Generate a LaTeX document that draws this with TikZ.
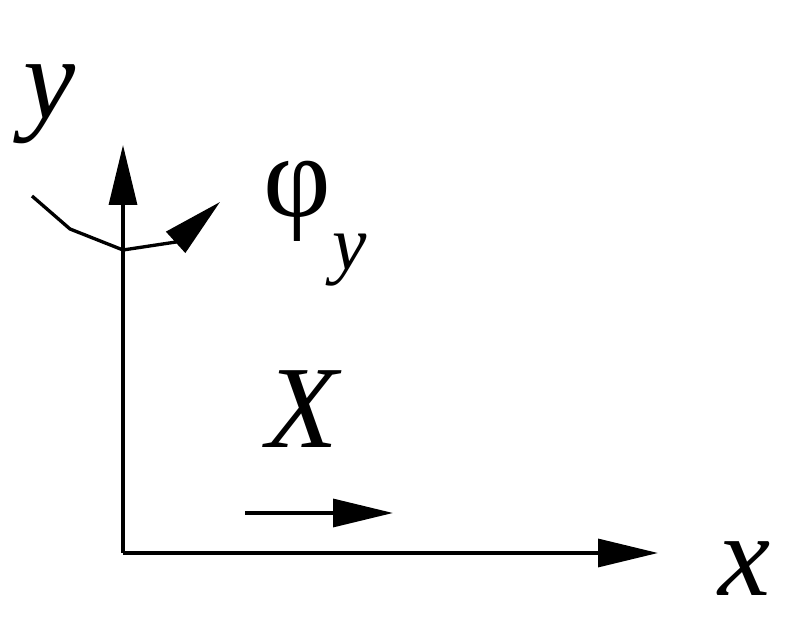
\documentclass[tikz,border=0pt]{standalone}
\usepackage{fontspec}
\setmainfont{Liberation Serif}
\usetikzlibrary{arrows.meta}

\begin{document}
\begin{tikzpicture}[x=0.75pt, y=-0.75pt, line width=2.5pt, line join=round,
  big/.style={inner sep=0pt, font=\fontsize{88}{88}\selectfont\itshape},
  greek/.style={inner sep=0pt, font=\fontsize{88}{88}\selectfont},
  small/.style={inner sep=0pt, font=\fontsize{58}{58}\selectfont\itshape},
  tip/.style={-{Triangle[length=45pt, width=21pt]}}]
  \useasboundingbox (0,0) rectangle (794,630);
  \coordinate (O) at (123,553);
  \coordinate (Ytip) at (123,145);
  \coordinate (Xtip) at (658,553);
  \coordinate (Xs) at (245,513);
  \coordinate (Xe) at (393,513);
  \coordinate (r1) at (32,196);
  \coordinate (r2) at (70,229);
  \coordinate (r3) at (123,250);
  \coordinate (r4) at (176,242);
  \coordinate (r5) at (220,202);
  \node[big] (ylabel) at (50,104) {y};
  \node[big] (xlabel) at (745,569) {x};
  \node[big] (Xlabel) at (302,409) {X};
  \node[greek] (phi) at (297,201) {φ};
  \node[small] (phisub) at (350,260) {y};
  \draw[tip] (O) -- (Ytip);
  \draw[tip] (O) -- (Xtip);
  \draw[tip] (Xs) -- (Xe);
  \draw[tip] (r1) -- (r2) -- (r3) -- (r4) -- (r5);
\end{tikzpicture}
\end{document}
